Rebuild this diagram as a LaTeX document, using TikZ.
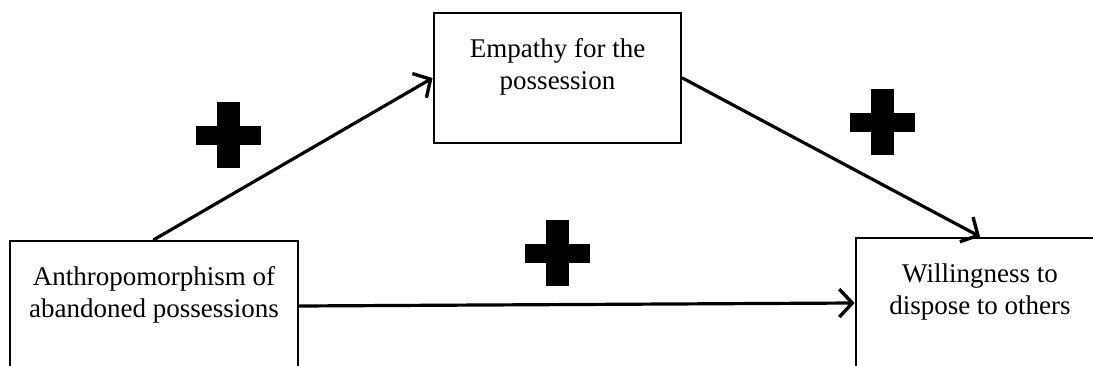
\documentclass[tikz,border=0pt]{standalone}
\usepackage{fontspec}
\setmainfont{Liberation Serif}
\usetikzlibrary{arrows.meta}
\begin{document}
\begin{tikzpicture}[x=1pt,y=1pt,
  box/.style={draw, line width=2.8pt, inner sep=0pt, align=center,
    font=\fontsize{27}{32.5}\selectfont, minimum height=130pt, text depth=28pt},
  link/.style={line width=3.2pt, line cap=round,
    -{Straight Barb[length=13pt,width=28pt,line width=3.4pt]}},
  plussign/.pic={
    \fill (-32.5,-9.5) rectangle (32.5,9.5);
    \fill (-11.5,-33) rectangle (11.5,33);
  }]
\useasboundingbox (0,0) rectangle (1093,365);
\clip (0,0) rectangle (1093,365);
\fill[white] (0,0) rectangle (1093,365);
\node[box, minimum width=288pt] (a) at (154,59) {Anthropomorphism of\\abandoned possessions};
\node[box, minimum width=247pt] (b) at (557.5,287) {Empathy for the\\possession};
\node[box, minimum width=248pt] (c) at (980,62) {Willingness to\\dispose to others};
\draw[link] (a.north) -- (b.west);
\draw[link] (b.east) -- (c.north);
\draw[link] (a.east) -- (c.west);
\pic at (228,230) {plussign};
\pic at (882,243) {plussign};
\pic at (557,112) {plussign};
\end{tikzpicture}
\end{document}
